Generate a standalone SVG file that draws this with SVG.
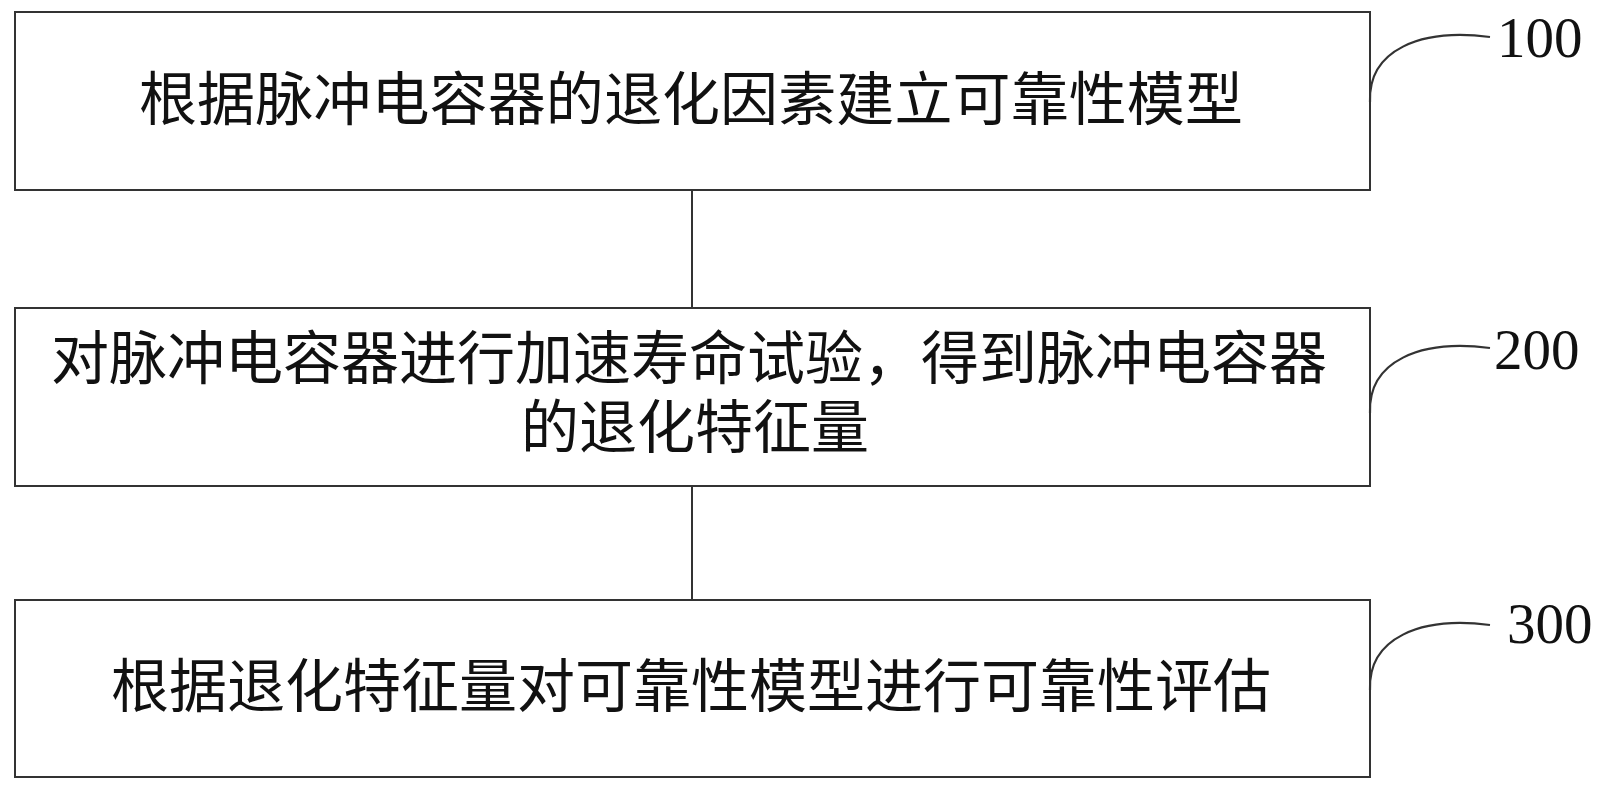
<svg xmlns="http://www.w3.org/2000/svg" width="1603" height="793" viewBox="0 0 1603 793">
<style>
.box{fill:#fff;stroke:#333;stroke-width:2}
.t{font-family:"Noto Sans CJK SC","Noto Sans CJK JP",sans-serif;font-size:58px;fill:#111}
.n{font-family:"Liberation Serif",serif;font-size:57px;fill:#111}
.lead{fill:none;stroke:#333;stroke-width:2.2}
.conn{stroke:#333;stroke-width:2}
</style>
<defs>
<path id="leader" d="M1370,102 C1368,50 1420,28 1490,37" class="lead"/>
</defs>
<rect width="1603" height="793" fill="#fff"/>
<g id="connectors">
<line class="conn" x1="692" y1="190" x2="692" y2="308"/>
<line class="conn" x1="692" y1="486" x2="692" y2="600"/>
</g>
<g id="node100">
<rect class="box" x="15" y="12" width="1355" height="178"/>
<text class="t" x="139" y="120" textLength="1104" lengthAdjust="spacing">根据脉冲电容器的退化因素建立可靠性模型</text>
<use href="#leader"/>
<text class="n" x="1497" y="57">100</text>
</g>
<g id="node200">
<rect class="box" x="15" y="308" width="1355" height="178"/>
<text class="t"><tspan x="51" y="379">对脉冲电容器进行加速寿命试验，得到脉冲电容器</tspan><tspan x="521" y="448">的退化特征量</tspan></text>
<use href="#leader" transform="translate(0,311)"/>
<text class="n" x="1494" y="369">200</text>
</g>
<g id="node300">
<rect class="box" x="15" y="600" width="1355" height="177"/>
<text class="t" x="111" y="707">根据退化特征量对可靠性模型进行可靠性评估</text>
<use href="#leader" transform="translate(0,588)"/>
<text class="n" x="1507" y="643">300</text>
</g>
</svg>
